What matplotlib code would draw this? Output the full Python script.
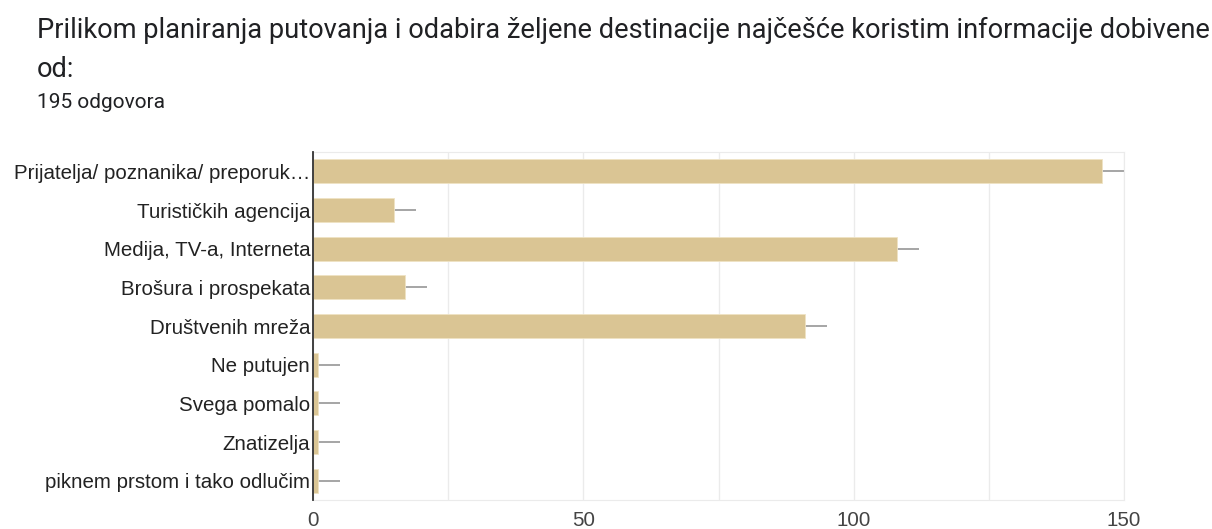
import matplotlib.pyplot as plt
import numpy as np

categories = ['Prijatelja/ poznanika/ preporuk\u2026', 'Turističkih agencija',
              'Medija, TV-a, Interneta', 'Brošura i prospekata', 'Društvenih mreža',
              'Ne putujen', 'Svega pomalo', 'Znatizelja', 'piknem prstom i tako odlučim']
counts = [146, 15, 108, 17, 91, 1, 1, 1, 1]
err_up = [4, 4, 4, 4, 4, 4, 4, 4, 4]
x_ticks = [0, 50, 100, 150]

BAR = '#dac594'

fig = plt.figure(figsize=(12.12, 5.29), dpi=100)
ax = fig.add_axes([313/1212, 1-500/529, (1124-313)/1212, (500-152)/529])

y = np.arange(len(categories))
ax.errorbar(counts, y, xerr=[np.zeros(len(counts)), err_up], fmt='none',
            ecolor='#9e9e9e', elinewidth=1.3, capsize=0, zorder=2)
ax.barh(y, counts, height=0.62, color=BAR, edgecolor='#efe3c4', linewidth=0.6, zorder=3)

ax.set_xlim(0, 150)
ax.set_ylim(8.5, -0.5)
ax.set_xticks(x_ticks)
ax.set_xticks(np.arange(0, 151, 25), minor=True)
ax.grid(axis='x', which='both', color='#ebebeb', linewidth=1, zorder=0)
ax.set_yticks(y)
ax.set_yticklabels(categories, fontfamily='Liberation Sans', fontsize=14.8, color='#222222')
ax.set_xticklabels([str(t) for t in x_ticks], fontfamily='Liberation Sans', fontsize=14.8, color='#444444')
ax.tick_params(axis='both', which='both', length=0)
ax.tick_params(axis='y', pad=2)
ax.tick_params(axis='x', pad=8)

for s in ['top', 'right', 'bottom']:
    ax.spines[s].set_color('#ebebeb')
ax.spines['left'].set_color('#333333')
ax.spines['left'].set_linewidth(1.3)
ax.spines['left'].set_zorder(4)

fig.text(37/1212, 1-30/529, 'Prilikom planiranja putovanja i odabira željene destinacije najčešće koristim informacije dobivene',
         fontfamily='Roboto', fontsize=19.6, color='#202124', va='center')
fig.text(37/1212, 1-70/529, 'od:', fontfamily='Roboto', fontsize=19.6, color='#202124', va='center')
fig.text(37/1212, 1-103/529, '195 odgovora', fontfamily='Roboto', fontsize=15, color='#202124', va='center')

fig.savefig('out.png', dpi=100, facecolor='white')
